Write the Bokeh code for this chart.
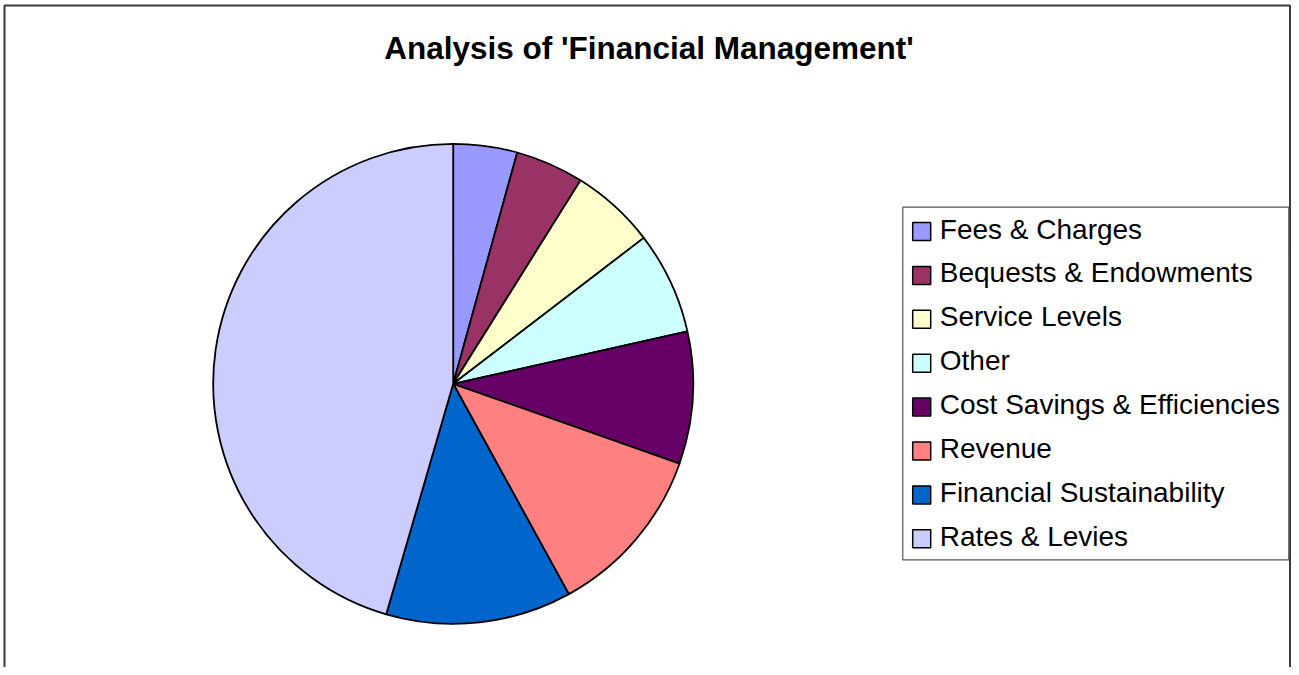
import math
from bokeh.plotting import figure
from bokeh.models import Range1d, ColumnDataSource
from bokeh.core.properties import value
from bokeh.embed import file_html
from bokeh.resources import INLINE

title_text = "Analysis of 'Financial Management'"
categories = ["Fees & Charges", "Bequests & Endowments", "Service Levels", "Other",
              "Cost Savings & Efficiencies", "Revenue", "Financial Sustainability", "Rates & Levies"]
shares = [4.3, 4.6, 5.7, 6.9, 8.9, 11.6, 12.5, 45.5]
colors = ["#9999FF", "#993366", "#FFFFCC", "#CCFFFF", "#660066", "#FF8080", "#0066CC", "#CCCCFF"]

W, H = 1291, 667
p = figure(width=W, height=H, output_backend="svg", toolbar_location=None,
           x_range=Range1d(0, W), y_range=Range1d(0, H),
           x_axis_type=None, y_axis_type=None, min_border=0,
           background_fill_color="white", border_fill_color="white")
p.grid.visible = False
p.outline_line_color = None

# chart border
p.quad(left=[4], right=[1289.5], bottom=[-20], top=[H - 5], fill_color=None,
       line_color="#3a3a3a", line_width=2)

# pie
total = sum(shares)
starts, ends = [], []
c = 0.0
for s in shares:
    starts.append(math.pi / 2 - 2 * math.pi * c / total)
    c += s
    ends.append(math.pi / 2 - 2 * math.pi * c / total)
src = ColumnDataSource(dict(start=starts, end=ends, color=colors, cat=categories))
cx, cy, r = 452.7, H - 383.3, 240
p.wedge(x=cx, y=cy, radius=r, start_angle="start", end_angle="end", direction="clock",
        fill_color="color", line_color="black", line_width=1.8, source=src)

# title
p.text(x=[648.5], y=[H - 47], text=[title_text], text_align="center", text_baseline="middle",
       text_font=value("Liberation Sans"), text_font_style="bold", text_font_size="31.5px",
       text_color="black")

# legend
p.quad(left=[902.3], right=[1288.3], bottom=[H - 559.3], top=[H - 206.7],
       fill_color="white", line_color="#555555", line_width=1.2)
n = len(categories)
step = 43.9
sq_y = [H - 231 - i * step for i in range(n)]
txt_y = [H - 228.5 - i * step for i in range(n)]
p.rect(x=[921.2] * n, y=sq_y, width=18, height=18, fill_color=colors,
       line_color="black", line_width=1.5)
p.text(x=[939.3] * n, y=txt_y, text=categories, text_align="left", text_baseline="middle",
       text_font=value("Liberation Sans"), text_font_size="28px", text_color="black")

open("out.html", "w").write(file_html(p, INLINE))
